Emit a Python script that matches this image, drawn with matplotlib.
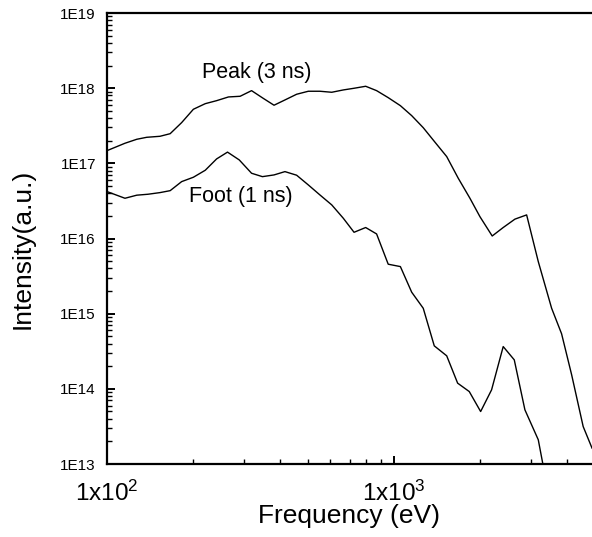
import numpy as np
import matplotlib
matplotlib.use('Agg')
import matplotlib.pyplot as plt
from matplotlib.ticker import LogLocator, FuncFormatter, NullFormatter

plt.rcParams['font.family'] = ['Liberation Sans', 'DejaVu Sans']
plt.rcParams['mathtext.default'] = 'regular'

# Spectrum at peak of the pulse (3 ns)
peak_energy = [100, 115.5, 127, 137.5, 153, 166, 182, 200, 220, 241,
               265, 291, 319, 350, 382, 417, 458, 503, 552, 607,
               666, 726, 797, 870, 955, 1053, 1153, 1265, 1390, 1527,
               1675, 1840, 1994, 2200, 2403, 2640, 2900, 3184, 3544, 3839,
               4161, 4565, 4900]
peak_intensity = [1.475e17, 1.85e17, 2.09e17, 2.22e17, 2.29e17, 2.48e17, 3.48e17, 5.24e17, 6.22e17, 6.82e17,
                  7.64e17, 7.80e17, 9.27e17, 7.34e17, 5.93e17, 6.97e17, 8.30e17, 9.10e17, 9.10e17, 8.82e17,
                  9.47e17, 9.97e17, 1.06e18, 9.27e17, 7.48e17, 5.85e17, 4.31e17, 2.98e17, 1.91e17, 1.23e17,
                  6.34e16, 3.43e16, 1.95e16, 1.08e16, 1.40e16, 1.81e16, 2.06e16, 4.93e15, 1.18e15, 5.4e14,
                  1.54e14, 3.15e13, 1.63e13]

# Spectrum at the foot (1 ns)
foot_energy = [100, 115.5, 127, 139, 153, 166, 182, 200, 220, 241,
               263, 289, 319, 348, 382, 417, 458, 503, 552, 607,
               666, 726, 797, 870, 955, 1053, 1153, 1265, 1382, 1527,
               1667, 1830, 2005, 2189, 2403, 2626, 2860, 3184, 3330]
foot_intensity = [4.21e16, 3.43e16, 3.77e16, 3.88e16, 4.08e16, 4.33e16, 5.71e16, 6.53e16, 8.09e16, 1.145e17,
                  1.41e17, 1.11e17, 7.38e16, 6.65e16, 7.01e16, 7.76e16, 6.95e16, 5.16e16, 3.80e16, 2.80e16,
                  1.86e16, 1.21e16, 1.40e16, 1.15e16, 4.55e15, 4.23e15, 1.93e15, 1.18e15, 3.73e14, 2.75e14,
                  1.19e14, 9.2e13, 4.99e13, 9.7e13, 3.65e14, 2.43e14, 5.26e13, 2.10e13, 8.5e12]

x_major = [100, 1000]

fig = plt.figure(figsize=(5.92, 5.37), dpi=100)
ax = fig.add_axes([107 / 592, 73 / 537, 485 / 592, 451 / 537])

ax.plot(peak_energy, peak_intensity, color='black', lw=1.0)
ax.plot(foot_energy, foot_intensity, color='black', lw=1.0)

ax.set_xscale('log')
ax.set_yscale('log')
ax.set_xlim(100, 4900)
ax.set_ylim(1e13, 1e19)

# axes frame: left, bottom and top only
for side in ['left', 'bottom', 'top']:
    ax.spines[side].set_linewidth(1.6)
ax.spines['right'].set_visible(False)

ax.set_xticks(x_major)
ax.xaxis.set_minor_locator(LogLocator(base=10, subs=np.arange(2, 10)))
ax.yaxis.set_major_locator(LogLocator(base=10, numticks=10))
ax.yaxis.set_minor_locator(LogLocator(base=10, subs=np.arange(2, 10), numticks=10))
ax.xaxis.set_major_formatter(FuncFormatter(lambda v, p: r'$1x10^{%d}$' % round(np.log10(v))))
ax.yaxis.set_major_formatter(FuncFormatter(lambda v, p: '1E%d' % round(np.log10(v))))
ax.xaxis.set_minor_formatter(NullFormatter())
ax.yaxis.set_minor_formatter(NullFormatter())

ax.tick_params(which='both', direction='in', top=False, right=False)
ax.tick_params(which='major', length=6, width=1.4)
ax.tick_params(which='minor', length=3.5, width=1.0)
ax.tick_params(axis='x', which='major', labelsize=17.5, pad=12)
ax.tick_params(axis='y', which='major', labelsize=11, pad=8)

ax.set_xlabel('Frequency (eV)', fontsize=19, labelpad=-1)
ax.set_ylabel('Intensity(a.u.)', fontsize=19)
ax.yaxis.set_label_coords(-0.150, 0.478)

ax.text(0.309, 0.869, 'Peak (3 ns)', transform=ax.transAxes, fontsize=15.5, ha='center', va='center')
ax.text(0.276, 0.594, 'Foot (1 ns)', transform=ax.transAxes, fontsize=15.5, ha='center', va='center')

fig.savefig('out.png', dpi=100)
